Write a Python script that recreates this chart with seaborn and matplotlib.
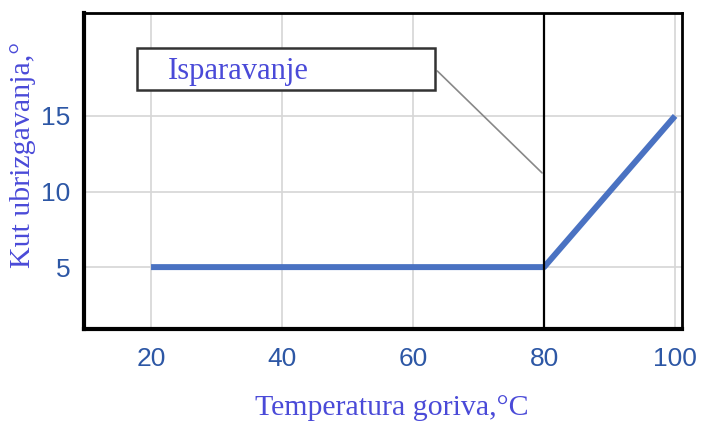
import seaborn as sns
import matplotlib.pyplot as plt
import pandas as pd
from matplotlib.patches import Rectangle

# podaci s grafa
temperatura = [20, 80, 100]
kut = [5, 5, 15]
x_ticks = [20, 40, 60, 80, 100]
y_ticks = [5, 10, 15]

sns.set_style("whitegrid")
plt.rcParams['font.family'] = ['Liberation Sans', 'DejaVu Sans']

df = pd.DataFrame({'temperatura': temperatura, 'kut': kut})

fig = plt.figure(figsize=(7.02, 4.23), dpi=100)
ax = fig.add_axes([0.12, 0.222, 0.851, 0.747])

sns.lineplot(data=df, x='temperatura', y='kut', ax=ax, color='#4a72c2',
             linewidth=4.3, solid_capstyle='butt', zorder=3)

ax.set_xlim(9.8, 101.0)
ax.set_ylim(0.9, 21.8)
ax.set_xticks(x_ticks)
ax.set_yticks(y_ticks)
ax.grid(True, color='#d6d6d6', linewidth=1.2)
ax.tick_params(axis='both', length=0, labelsize=19, labelcolor='#2d57a5', pad=10)
ax.tick_params(axis='x', pad=13)

for s in ax.spines.values():
    s.set_visible(True)
    s.set_color('black')
    s.set_linewidth(2)
ax.spines['left'].set_linewidth(3)
ax.spines['bottom'].set_linewidth(3)

# granica isparavanja
ax.axvline(80, color='black', linewidth=1.6, zorder=4)

serif = ['Liberation Serif', 'DejaVu Serif']
lbl_color = '#4a4ad8'
ax.set_xlabel('Temperatura goriva,°C', family=serif, fontsize=21.5, color=lbl_color)
ax.set_ylabel('Kut ubrizgavanja,°', family=serif, fontsize=21.5, color=lbl_color)
ax.xaxis.set_label_coords(0.515, -0.21)
ax.yaxis.set_label_coords(-0.08, 0.55)

# okvir s natpisom
ax.add_patch(Rectangle((17.8, 16.7), 45.6, 2.8, facecolor='white', edgecolor='#333333',
                       linewidth=1.8, zorder=5))
ax.text(22.6, 17.95, 'Isparavanje', family=serif, fontsize=22, color=lbl_color,
        va='center', ha='left', zorder=6)
ax.annotate('', xy=(80, 11.1), xytext=(63.4, 18.1),
            arrowprops=dict(arrowstyle='-', color='#888888', linewidth=1.2), zorder=4)

fig.savefig('out.png', dpi=100)
